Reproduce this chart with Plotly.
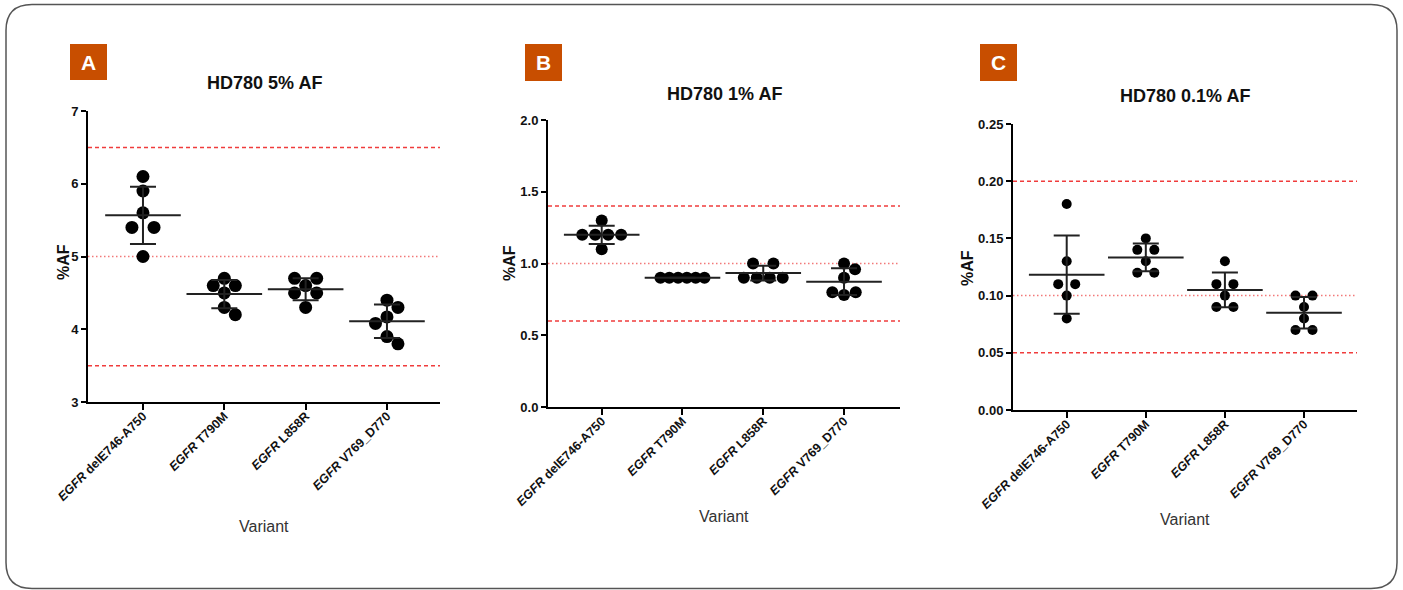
import numpy as np
import plotly.graph_objects as go
from collections import Counter

W, H = 1403, 590

# ---------------- data ----------------
categories = ["delE746-A750", "T790M", "L858R", "V769_D770"]
tick_labels = ["<i>EGFR</i> delE746-A750", "<i>EGFR</i> T790M",
               "<i>EGFR</i> L858R", "<i>EGFR</i> V769_D770"]
panel_titles = ["HD780 5% AF", "HD780 1% AF", "HD780 0.1% AF"]
panel_letters = ["A", "B", "C"]

a_dele = [6.1, 5.9, 5.6, 5.4, 5.4, 5.0]
a_t790m = [4.7, 4.6, 4.6, 4.5, 4.3, 4.2]
a_l858r = [4.7, 4.7, 4.6, 4.5, 4.5, 4.3]
a_v769 = [4.4, 4.3, 4.17, 4.08, 3.9, 3.8]
a_limits = [6.5, 3.5]
a_target = [5.0]

b_dele = [1.3, 1.2, 1.2, 1.2, 1.2, 1.1]
b_t790m = [0.9, 0.9, 0.9, 0.9, 0.9, 0.9]
b_l858r = [1.0, 1.0, 0.9, 0.9, 0.9, 0.9]
b_v769 = [1.0, 0.96, 0.9, 0.8, 0.8, 0.78]
b_limits = [1.4, 0.6]
b_target = [1.0]

c_dele = [0.18, 0.13, 0.11, 0.11, 0.10, 0.08]
c_t790m = [0.15, 0.14, 0.14, 0.13, 0.12, 0.12]
c_l858r = [0.13, 0.11, 0.11, 0.10, 0.09, 0.09]
c_v769 = [0.10, 0.10, 0.09, 0.08, 0.07, 0.07]
c_limits = [0.20, 0.05]
c_target = [0.10]

a_yticks = [3, 4, 5, 6, 7]
b_yticks = [0.0, 0.5, 1.0, 1.5, 2.0]
c_yticks = [0.00, 0.05, 0.10, 0.15, 0.20, 0.25]

# ---------------- layout (pixel boxes) ----------------
panels = [
    dict(groups=[a_dele, a_t790m, a_l858r, a_v769], limits=a_limits, target=a_target,
         yticks=a_yticks, fmt="d", box=(88, 440, 111, 402), xr=(-0.676, 3.652),
         dot=13, badge=(70, 107, 44, 80), title_y=83, ylab_x=63, ylab_y=262, xlab_y=526),
    dict(groups=[b_dele, b_t790m, b_l858r, b_v769], limits=b_limits, target=b_target,
         yticks=b_yticks, fmt=".1f", box=(548, 900, 120, 407), xr=(-0.665, 3.693),
         dot=12, badge=(525, 562, 44, 81), title_y=94, ylab_x=509, ylab_y=263, xlab_y=516),
    dict(groups=[c_dele, c_t790m, c_l858r, c_v769], limits=c_limits, target=c_target,
         yticks=c_yticks, fmt=".2f", box=(1013, 1357, 124, 410), xr=(-0.679, 3.670),
         dot=10, badge=(980, 1017, 44, 81), title_y=96, ylab_x=968, ylab_y=268, xlab_y=519),
]

BADGE = "#C84E00"
DASH_RED = "#F03C3C"
DOT_RED = "#F27878"
FONT = "Arial, 'Liberation Sans', sans-serif"


def swarm(values, ppu_y, D, wmax):
    """Beeswarm offsets in pixels for one column of points."""
    vals = [round(v, 6) for v in values]
    n = len(vals)
    cnt = Counter(vals)
    off = [0.0] * n
    placed = []

    def ok(dx, y):
        return all((dx - px) ** 2 + (y - py) ** 2 >= D * D - 1e-6 for px, py in placed)

    singles = sorted([i for i in range(n) if cnt[vals[i]] == 1], key=lambda i: -vals[i])
    for i in singles:
        y = vals[i] * ppu_y
        best = None
        k = 0
        while best is None:
            if k == 0:
                cands = [0.0]
            else:
                left = sum(1 for px, _ in placed if px < 0)
                right = sum(1 for px, _ in placed if px > 0)
                cands = [-k * 0.5, k * 0.5] if right > left else [k * 0.5, -k * 0.5]
            for c in cands:
                if ok(c, y):
                    best = c
                    break
            k += 1
        off[i] = best
        placed.append((best, y))

    ties = sorted([v for v in cnt if cnt[v] > 1], key=lambda v: -cnt[v])
    for v in ties:
        idx = [i for i in range(n) if vals[i] == v]
        m = len(idx)
        s = 1.7 * D if m == 2 else 1.08 * D
        if (m - 1) * s > wmax:
            s = wmax / (m - 1)
        y = v * ppu_y
        while True:
            cands = [(k - (m - 1) / 2) * s for k in range(m)]
            if all(ok(c, y) for c in cands) or s > 4 * D:
                break
            s += 0.5
        for i, c in zip(idx, cands):
            off[i] = c
        for c in cands:
            placed.append((c, y))
    return off


fig = go.Figure()
shapes = []
annotations = []
layout_axes = {}

for p, P in enumerate(panels):
    sfx = "" if p == 0 else str(p + 1)
    xname, yname = "x" + sfx, "y" + sfx
    x0, x1, y0, y1 = P["box"]
    ymin, ymax = P["yticks"][0], P["yticks"][-1]
    ppu_x = (x1 - x0) / (P["xr"][1] - P["xr"][0])
    ppu_y = (y1 - y0) / (ymax - ymin)

    xs, ys = [], []
    means, sds = [], []
    for g, vals in enumerate(P["groups"]):
        offs = swarm(vals, ppu_y, P["dot"], 44)
        xs += [g + o / ppu_x for o in offs]
        ys += list(vals)
        means.append(float(np.mean(vals)))
        sds.append(float(np.std(vals, ddof=1)))

    fig.add_trace(go.Scatter(
        x=xs, y=ys, mode="markers", xaxis=xname, yaxis=yname,
        marker=dict(size=P["dot"], color="black", line=dict(width=0)),
        showlegend=False, hoverinfo="skip"))
    fig.add_trace(go.Scatter(
        x=list(range(len(categories))), y=means, mode="markers", xaxis=xname, yaxis=yname,
        marker=dict(symbol="line-ew", size=54, line=dict(width=2, color="#222")),
        error_y=dict(type="data", array=sds, visible=True, color="#222",
                     thickness=2, width=13),
        showlegend=False, hoverinfo="skip"))

    for lv in P["limits"]:
        shapes.append(dict(type="line", xref=xname + " domain", yref=yname,
                           x0=0, x1=1, y0=lv, y1=lv, layer="below",
                           line=dict(color=DASH_RED, width=1.5, dash="4px,3px")))
    for lv in P["target"]:
        shapes.append(dict(type="line", xref=xname + " domain", yref=yname,
                           x0=0, x1=1, y0=lv, y1=lv, layer="below",
                           line=dict(color=DOT_RED, width=1.5, dash="1.5px,2.5px")))

    ticktext = [format(t, P["fmt"]) if P["fmt"] != "d" else str(int(t)) for t in P["yticks"]]
    layout_axes["xaxis" + sfx] = dict(
        domain=[x0 / W, x1 / W], anchor=yname, range=list(P["xr"]),
        tickvals=list(range(len(categories))), ticktext=tick_labels, tickangle=-45,
        ticklabelstandoff=-6,
        showline=True, linewidth=2, linecolor="black", ticks="outside", ticklen=6,
        tickwidth=2, tickcolor="black", showgrid=False, zeroline=False, automargin=False,
        tickfont=dict(family=FONT, size=12.5, color="#111", weight="bold"), fixedrange=True)
    layout_axes["yaxis" + sfx] = dict(
        domain=[1 - y1 / H, 1 - y0 / H], anchor=xname, range=[ymin, ymax],
        tickvals=P["yticks"], ticktext=ticktext, automargin=False,
        showline=True, linewidth=2, linecolor="black", ticks="outside", ticklen=5,
        tickwidth=2, tickcolor="black", showgrid=False, zeroline=False,
        tickfont=dict(family=FONT, size=13, color="#111", weight="bold"), fixedrange=True)

    # badge
    bx0, bx1, by0, by1 = P["badge"]
    shapes.append(dict(type="rect", xref="paper", yref="paper",
                       x0=bx0 / W, x1=bx1 / W, y0=1 - by1 / H, y1=1 - by0 / H,
                       fillcolor=BADGE, line=dict(width=0)))
    annotations.append(dict(text=panel_letters[p], x=(bx0 + bx1) / 2 / W,
                            y=1 - (by0 + by1) / 2 / H, xref="paper", yref="paper",
                            showarrow=False, xanchor="center", yanchor="middle",
                            font=dict(family=FONT, size=21, color="white", weight="bold")))
    # title
    annotations.append(dict(text=panel_titles[p], x=(x0 + x1) / 2 / W, y=1 - P["title_y"] / H,
                            xref="paper", yref="paper", showarrow=False,
                            xanchor="center", yanchor="middle",
                            font=dict(family=FONT, size=18, color="#111", weight="bold")))
    # y label
    annotations.append(dict(text="%AF", x=P["ylab_x"] / W, y=1 - P["ylab_y"] / H,
                            xref="paper", yref="paper", showarrow=False, textangle=-90,
                            xanchor="center", yanchor="middle",
                            font=dict(family=FONT, size=16, color="#111", weight="bold")))
    # x label
    annotations.append(dict(text="Variant", x=(x0 + x1) / 2 / W, y=1 - P["xlab_y"] / H,
                            xref="paper", yref="paper", showarrow=False,
                            xanchor="center", yanchor="middle",
                            font=dict(family=FONT, size=16, color="#333")))

# rounded outer border
bl, br, bt, bb, r = 6, 1397, 4.5, 588.5, 26
def px(x): return x / W
def py(y): return 1 - y / H
path = (f"M {px(bl + r)},{py(bt)} L {px(br - r)},{py(bt)} "
        f"Q {px(br)},{py(bt)} {px(br)},{py(bt + r)} "
        f"L {px(br)},{py(bb - r)} Q {px(br)},{py(bb)} {px(br - r)},{py(bb)} "
        f"L {px(bl + r)},{py(bb)} Q {px(bl)},{py(bb)} {px(bl)},{py(bb - r)} "
        f"L {px(bl)},{py(bt + r)} Q {px(bl)},{py(bt)} {px(bl + r)},{py(bt)} Z")
shapes.append(dict(type="path", xref="paper", yref="paper", path=path,
                   line=dict(color="#555", width=1.5), fillcolor="rgba(0,0,0,0)"))

fig.update_layout(width=W, height=H,
                  margin=dict(l=0, r=0, t=0, b=0, pad=0, autoexpand=False),
                  paper_bgcolor="white", plot_bgcolor="white",
                  shapes=shapes, annotations=annotations, **layout_axes)
fig.write_html("out.html", config={"displayModeBar": False},
               post_script="document.body.style.margin='0px';"
                           "document.body.style.overflow='hidden';")
